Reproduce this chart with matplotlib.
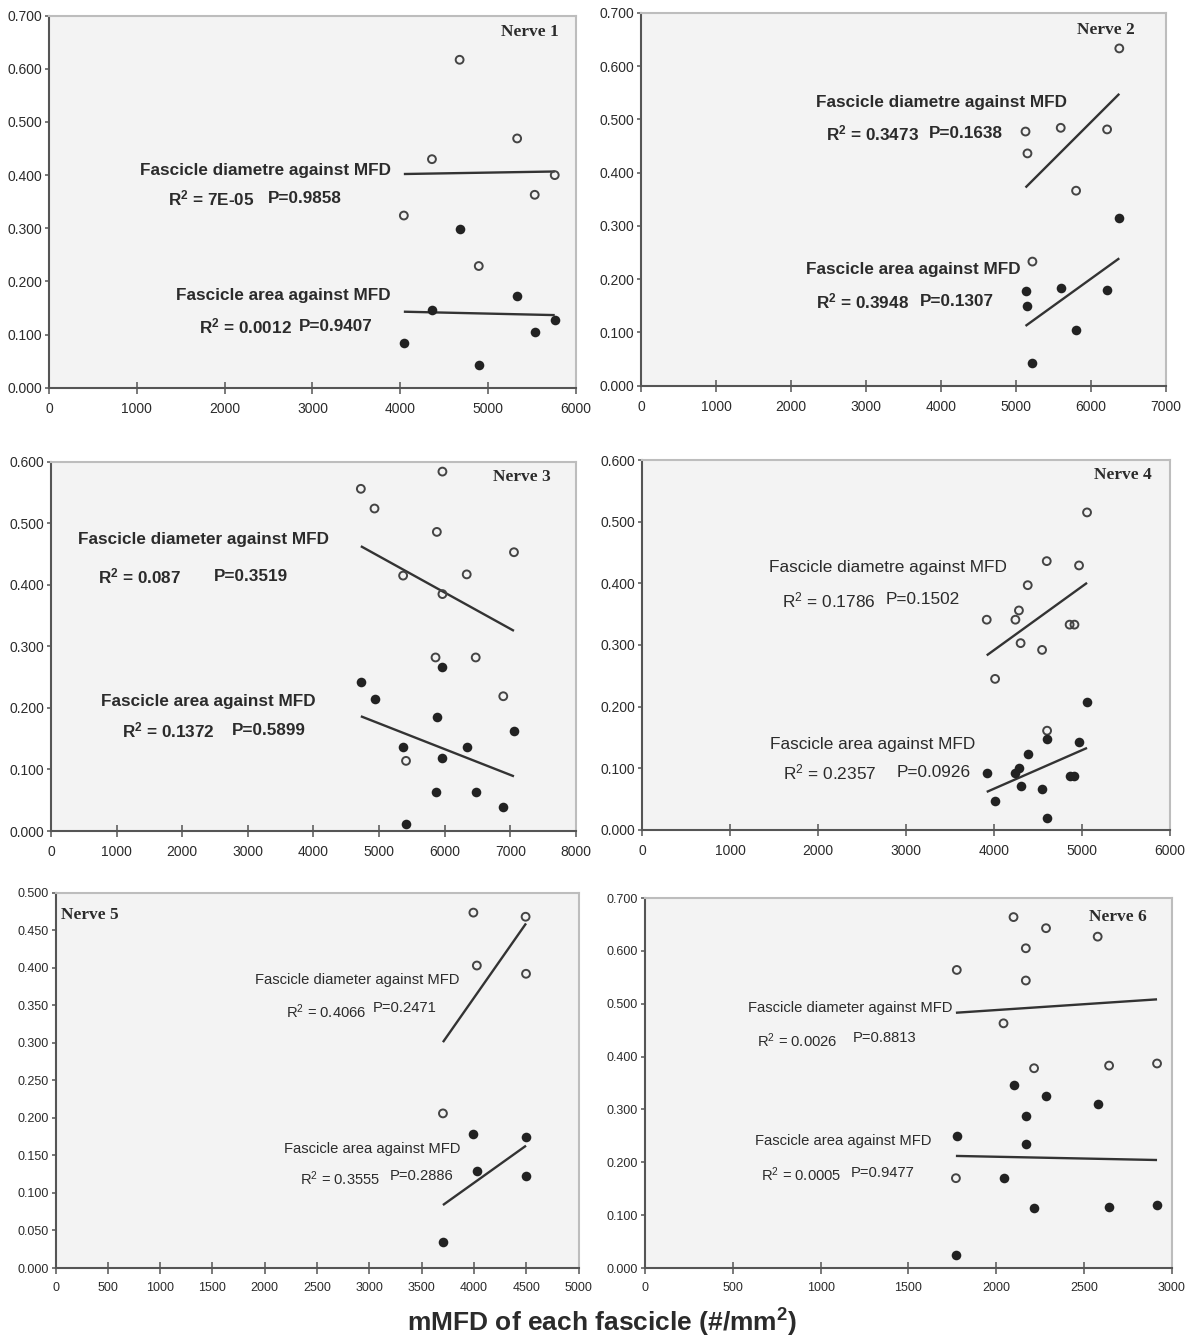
import numpy as np
import matplotlib
matplotlib.use("Agg")
import matplotlib.pyplot as plt
from matplotlib import font_manager

# ---- data: mean myelinated fibre density (mMFD) vs fascicle size, per nerve ----
mfd_n1 = [4040, 4360, 4675, 4893, 5330, 5530, 5758]
diam_n1 = [0.324, 0.430, 0.617, 0.229, 0.469, 0.363, 0.400]
area_n1 = [0.085, 0.146, 0.298, 0.043, 0.173, 0.105, 0.128]

mfd_n2 = [5130, 5156, 5222, 5600, 5805, 6219, 6382]
diam_n2 = [0.477, 0.436, 0.233, 0.484, 0.366, 0.481, 0.633]
area_n2 = [0.178, 0.149, 0.043, 0.183, 0.104, 0.180, 0.314]

mfd_n3 = [4722, 4930, 5366, 5410, 5860, 5880, 5965, 5965, 6335, 6472, 6892, 7055]
diam_n3 = [0.556, 0.524, 0.415, 0.114, 0.282, 0.486, 0.584, 0.385, 0.417, 0.282, 0.219, 0.453]
area_n3 = [0.242, 0.215, 0.137, 0.012, 0.064, 0.186, 0.267, 0.119, 0.137, 0.063, 0.039, 0.163]

mfd_n4 = [3918, 4013, 4244, 4284, 4303, 4384, 4547, 4600, 4604, 4860, 4915, 4967, 5058]
diam_n4 = [0.341, 0.245, 0.341, 0.356, 0.303, 0.397, 0.292, 0.436, 0.161, 0.333, 0.333, 0.429, 0.515]
area_n4 = [0.092, 0.047, 0.093, 0.101, 0.072, 0.124, 0.067, 0.148, 0.020, 0.087, 0.087, 0.143, 0.207]

mfd_n5 = [3703, 3994, 4027, 4493, 4497]
diam_n5 = [0.206, 0.4735, 0.403, 0.468, 0.392]
area_n5 = [0.035, 0.178, 0.129, 0.1745, 0.122]

mfd_n6 = [1770, 1775, 2041, 2098, 2168, 2168, 2215, 2283, 2577, 2642, 2915]
diam_n6 = [0.170, 0.564, 0.463, 0.664, 0.605, 0.544, 0.378, 0.643, 0.627, 0.383, 0.387]
area_n6 = [0.025, 0.250, 0.170, 0.347, 0.288, 0.234, 0.114, 0.325, 0.310, 0.115, 0.120]

nerve_names = ["Nerve 1", "Nerve 2", "Nerve 3", "Nerve 4", "Nerve 5", "Nerve 6"]
diam_titles = ["Fascicle diametre against MFD", "Fascicle diametre against MFD",
               "Fascicle diameter against MFD", "Fascicle diametre against MFD",
               "Fascicle diameter against MFD", "Fascicle diameter against MFD"]
area_title = "Fascicle area against MFD"
diam_r2 = ["7E-05", "0.3473", "0.087", "0.1786", "0.4066", "0.0026"]
diam_p = ["0.9858", "0.1638", "0.3519", "0.1502", "0.2471", "0.8813"]
area_r2 = ["0.0012", "0.3948", "0.1372", "0.2357", "0.3555", "0.0005"]
area_p = ["0.9407", "0.1307", "0.5899", "0.0926", "0.2886", "0.9477"]

x_max = [6000, 7000, 8000, 6000, 5000, 3000]
x_step = [1000, 1000, 1000, 1000, 500, 500]
y_max = [0.7, 0.7, 0.6, 0.6, 0.5, 0.7]
y_step = [0.1, 0.1, 0.1, 0.1, 0.05, 0.1]

series = [
    (mfd_n1, diam_n1, area_n1), (mfd_n2, diam_n2, area_n2),
    (mfd_n3, diam_n3, area_n3), (mfd_n4, diam_n4, area_n4),
    (mfd_n5, diam_n5, area_n5), (mfd_n6, diam_n6, area_n6),
]

# ---- layout (figure fractions: left, bottom, width, height) ----
boxes = [
    (0.0407, 0.7102, 0.4377, 0.2781),
    (0.5326, 0.7117, 0.4355, 0.2788),
    (0.0423, 0.3789, 0.4361, 0.2760),
    (0.5332, 0.3797, 0.4385, 0.2765),
    (0.0461, 0.0523, 0.4345, 0.2805),
    (0.5357, 0.0523, 0.4377, 0.2765),
]

# annotation placement in data units: (x, y) for each text line
ann = [
    dict(nerve=(5804, 0.670, "right"), dt=(3895, 0.408, "right"), dr=(1359, 0.356), dp=(2492, 0.356),
         at=(3895, 0.173, "right"), ar=(1708, 0.115), ap=(2841, 0.115)),
    dict(nerve=(6592, 0.668, "right"), dt=(2335, 0.531, "left"), dr=(2473, 0.473), dp=(3843, 0.473),
         at=(2197, 0.218, "left"), ar=(2335, 0.158), ap=(3715, 0.158)),
    dict(nerve=(7621, 0.575, "right"), dt=(408, 0.474, "left"), dr=(711, 0.414), dp=(2490, 0.414),
         at=(770, 0.211, "left"), ar=(1079, 0.164), ap=(2752, 0.164)),
    dict(nerve=(5795, 0.576, "right"), dt=(1438, 0.426, "left"), dr=(1590, 0.373), dp=(2767, 0.373),
         at=(1460, 0.139, "left"), ar=(1603, 0.093), ap=(2898, 0.093)),
    dict(nerve=(55, 0.470, "left"), dt=(1902, 0.384, "left"), dr=(2205, 0.342), dp=(3036, 0.346),
         at=(2184, 0.159, "left"), ar=(2341, 0.119), ap=(3193, 0.122)),
    dict(nerve=(2858, 0.665, "right"), dt=(588, 0.492, "left"), dr=(640, 0.431), dp=(1181, 0.435),
         at=(625, 0.240, "left"), ar=(662, 0.177), ap=(1170, 0.180)),
]

installed = {f.name for f in font_manager.fontManager.ttflist}
SANS = "Liberation Sans" if "Liberation Sans" in installed else "DejaVu Sans"
SERIF = "Liberation Serif" if "Liberation Serif" in installed else "DejaVu Serif"
HAS_NARROW = "Liberation Sans Narrow" in installed
NARROW = "Liberation Sans Narrow" if HAS_NARROW else SANS

# superscripts drawn through mathtext in the same sans family
plt.rcParams["mathtext.fontset"] = "custom"
plt.rcParams["mathtext.rm"] = SANS
plt.rcParams["mathtext.it"] = SANS + ":italic"
plt.rcParams["mathtext.bf"] = SANS + ":bold"

INK = "#2b2b2b"
PANEL_BG = "#f3f3f3"

fig = plt.figure(figsize=(12.04, 13.38), dpi=100)
fig.patch.set_facecolor("white")

for i in range(6):
    mfd, diam, area = series[i]
    ax = fig.add_axes(boxes[i])
    ax.set_facecolor(PANEL_BG)
    narrow = i >= 4
    tick_family = NARROW if narrow else SANS
    tick_size = (10.5 if HAS_NARROW else 9.0) if narrow else 10
    bold = i < 3
    if bold:
        txt_kw = dict(family=SANS, fontsize=12.3, fontweight="bold")
        r2_label = r"R$^{\mathbf{2}}$ = "
    elif i == 3:
        txt_kw = dict(family=SANS, fontsize=12.4)
        r2_label = r"R$^{2}$ = "
    else:
        txt_kw = dict(family=NARROW, fontsize=12.5 if HAS_NARROW else 10.6)
        r2_label = r"R$^{2}$ = "

    # scatter points: open = diameter, filled = area
    ax.scatter(mfd, diam, s=32, facecolors="none", edgecolors="#444444", linewidths=1.4, zorder=3)
    ax.scatter(mfd, area, s=48, color="#222222", linewidths=0, zorder=3)

    # least-squares trend lines over the observed range
    xs = np.array([min(mfd), max(mfd)], dtype=float)
    for yv in (diam, area):
        k, b = np.polyfit(mfd, yv, 1)
        ax.plot(xs, k * xs + b, color="#333333", lw=1.7, solid_capstyle="butt", zorder=2)

    ax.set_xlim(0, x_max[i])
    ax.set_ylim(0, y_max[i])
    ax.set_xticks(np.arange(0, x_max[i] + 1, x_step[i]))
    ax.set_yticks(np.round(np.arange(0, y_max[i] + 1e-9, y_step[i]), 3))
    ax.yaxis.set_major_formatter(matplotlib.ticker.FormatStrFormatter("%.3f"))
    ax.tick_params(axis="x", direction="inout", length=8, width=1.1, color="#555555",
                   labelsize=tick_size, labelcolor=INK, pad=6)
    ax.tick_params(axis="y", direction="out", length=3, width=1.1, color="#555555",
                   labelsize=tick_size, labelcolor=INK, pad=2)
    for lab in ax.get_xticklabels() + ax.get_yticklabels():
        lab.set_family(tick_family)

    for side in ("left", "bottom"):
        ax.spines[side].set_color("#555555")
        ax.spines[side].set_linewidth(1.5)
    for side in ("top", "right"):
        ax.spines[side].set_color("#bdbdbd")
        ax.spines[side].set_linewidth(1.5)

    a = ann[i]
    nx, ny, nha = a["nerve"]
    ax.text(nx, ny, nerve_names[i], ha=nha, va="center", family=SERIF,
            fontsize=12.5, fontweight="bold", color=INK)
    x, y, ha = a["dt"]
    ax.text(x, y, diam_titles[i], ha=ha, va="center", color=INK, **txt_kw)
    ax.text(*a["dr"], r2_label + diam_r2[i], ha="left", va="center", color=INK, **txt_kw)
    ax.text(*a["dp"], "P=" + diam_p[i], ha="left", va="center", color=INK, **txt_kw)
    x, y, ha = a["at"]
    ax.text(x, y, area_title, ha=ha, va="center", color=INK, **txt_kw)
    ax.text(*a["ar"], r2_label + area_r2[i], ha="left", va="center", color=INK, **txt_kw)
    ax.text(*a["ap"], "P=" + area_p[i], ha="left", va="center", color=INK, **txt_kw)

fig.text(0.5, 0.0112, r"mMFD of each fascicle (#/mm$^{\mathbf{2}}$)", ha="center", va="center",
         family=SANS, fontsize=19, fontweight="bold", color=INK)

fig.savefig("out.png", dpi=100, facecolor="white")
